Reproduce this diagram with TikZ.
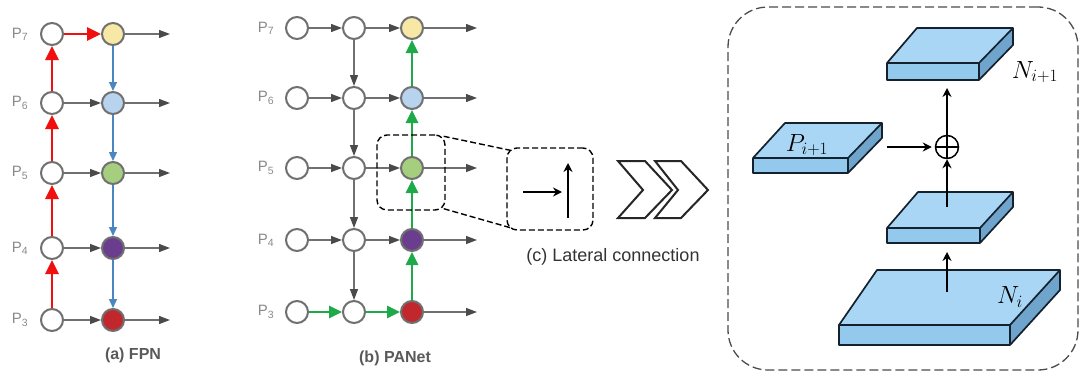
\documentclass[tikz,border=0pt]{standalone}
\usepackage{fontspec}
\setmainfont{Liberation Sans}
\usetikzlibrary{arrows.meta,calc}
\definecolor{cgray}{HTML}{707070}
\definecolor{ctip}{HTML}{4A4A4A}
\definecolor{cred}{HTML}{F01010}
\definecolor{cblue}{HTML}{4A86C0}
\definecolor{cgreen}{HTML}{1FAA4A}
\definecolor{nyellow}{HTML}{F7E8A6}
\definecolor{nblue}{HTML}{B7D3EE}
\definecolor{ngreen}{HTML}{A5CF7E}
\definecolor{npurple}{HTML}{6A3D8F}
\definecolor{nred}{HTML}{C0282D}
\definecolor{stop}{HTML}{A9D6F5}
\definecolor{sfront}{HTML}{92C9EC}
\definecolor{sside}{HTML}{6FA5CC}
\definecolor{sedge}{HTML}{15222E}
\definecolor{lblgray}{HTML}{8A8A8A}
\definecolor{capgray}{HTML}{5A5A5A}
\newcommand\myslab[7]{%
  \pgfmathsetmacro\hh{#4-#3}
  \fill[stop] (#1,#3) -- (#2,#3) -- (#6,#7) -- (#5,#7) -- cycle;
  \fill[sside] (#2,#3) -- (#6,#7) -- ({#6},{#7+\hh}) -- (#2,#4) -- cycle;
  \fill[sfront] (#1,#3) rectangle (#2,#4);
  \draw[sedge,line width=1.7pt,line join=round] (#1,#3) -- (#5,#7) -- (#6,#7) -- ({#6},{#7+\hh}) -- (#2,#4) -- (#1,#4) -- cycle;
  \draw[sedge,line width=1.7pt,line join=round] (#1,#3) -- (#2,#3) -- (#6,#7);
  \draw[sedge,line width=1.7pt] (#2,#3) -- (#2,#4);
}
\tikzset{
  nd/.style={circle,draw=cgray,line width=2pt,minimum size=22pt,inner sep=0pt,fill=white},
  lbl/.style={text=lblgray,font=\fontsize{15}{15}\selectfont,inner sep=0pt},
  capt/.style={text=capgray,font=\bfseries\fontsize{16}{16}\selectfont,inner sep=0pt},
  garr/.style={draw=cgray,line width=1.3pt,-{Triangle[length=11pt,width=8pt,color=ctip]}},
  rarr/.style={draw=cred,line width=2.6pt,-{Triangle[length=14pt,width=13pt]}},
  barr/.style={draw=cblue,line width=1.2pt,-{Triangle[length=9pt,width=8pt]}},
  grarr/.style={draw=cgreen,line width=2.6pt,-{Triangle[length=13pt,width=12pt]}},
  karr/.style={draw=black,line width=1.6pt,-{Stealth[length=9pt,width=9pt]}},
  dbox/.style={draw=black,line width=1.4pt,dash pattern=on 6pt off 3pt,rounded corners=10pt,inner sep=0pt},
  chev/.style={draw=black!85,line width=2pt,fill=white,line join=miter},
}
\begin{document}
\begin{tikzpicture}[x=1pt,y=-1pt]
\useasboundingbox (0,0) rectangle (1080,372);
\fill[white] (0,0) rectangle (1080,372);

% ---------- (a) FPN ----------
\foreach \n/\y in {7/34,6/103,5/173,4/248,3/320}{
  \node[nd] (a1\n) at (52,\y) {};
  \node[lbl] (al\n) at (20,\y) {P\textsubscript{\n}};
  \coordinate (ao\n) at (170,\y);
}
\node[nd,fill=nyellow] (a27) at (113,34) {};
\node[nd,fill=nblue] (a26) at (113,103) {};
\node[nd,fill=ngreen] (a25) at (113,173) {};
\node[nd,fill=npurple] (a24) at (113,248) {};
\node[nd,fill=nred] (a23) at (113,320) {};
\foreach \n in {7,6,5,4,3}{ \draw[garr] (a2\n) -- (ao\n); }
\foreach \n in {6,5,4,3}{ \draw[garr] (a1\n) -- (a2\n); }
\draw[rarr] (a17) -- (a27);
\draw[rarr] (a13) -- (a14);
\draw[rarr] (a14) -- (a15);
\draw[rarr] (a15) -- (a16);
\draw[rarr] (a16) -- (a17);
\draw[barr] (a27) -- (a26);
\draw[barr] (a26) -- (a25);
\draw[barr] (a25) -- (a24);
\draw[barr] (a24) -- (a23);
\node[capt] (capa) at (133,355) {(a) FPN};

% ---------- (b) PANet ----------
\foreach \n/\y in {7/28,6/98,5/168,4/240,3/312}{
  \node[nd] (b1\n) at (297,\y) {};
  \node[nd] (b2\n) at (354,\y) {};
  \node[lbl] (bl\n) at (266,\y) {P\textsubscript{\n}};
  \coordinate (bo\n) at (477,\y);
}
\node[nd,fill=nyellow] (b37) at (412,28) {};
\node[nd,fill=nblue] (b36) at (412,98) {};
\node[nd,fill=ngreen] (b35) at (412,168) {};
\node[nd,fill=npurple] (b34) at (412,240) {};
\node[nd,fill=nred] (b33) at (412,312) {};
\foreach \n in {7,6,5,4,3}{ \draw[garr] (b3\n) -- (bo\n); }
\foreach \n in {7,6,5,4}{ \draw[garr] (b1\n) -- (b2\n); \draw[garr] (b2\n) -- (b3\n); }
\draw[garr] (b27) -- (b26);
\draw[garr] (b26) -- (b25);
\draw[garr] (b25) -- (b24);
\draw[garr] (b24) -- (b23);
\draw[grarr] (b13) -- (b23);
\draw[grarr] (b23) -- (b33);
\draw[grarr] (b33) -- (b34);
\draw[grarr] (b34) -- (b35);
\draw[grarr] (b35) -- (b36);
\draw[grarr] (b36) -- (b37);
\node[capt] (capb) at (395,358) {(b) PANet};

% ---------- (c) lateral connection ----------
\node[dbox,minimum width=68pt,minimum height=75pt] (zbox) at (411,172.5) {};
\node[dbox,minimum width=86pt,minimum height=82pt] (lat) at (550,189) {};
\draw[black,line width=1.4pt,dash pattern=on 6pt off 3pt] ($(zbox.north east)+(-2,2)$) -- ($(lat.north west)+(4,3)$);
\draw[black,line width=1.4pt,dash pattern=on 6pt off 3pt] ($(zbox.south east)+(-2,-2)$) -- ($(lat.south west)+(4,-3)$);
\coordinate (lh1) at (523,192);
\coordinate (lh2) at (562,192);
\coordinate (lv1) at (568,218);
\coordinate (lv2) at (568,163);
\draw[karr] (lh1) -- (lh2);
\draw[karr] (lv1) -- (lv2);
\draw[chev] (618,161) -- (645,161) -- (672,190) -- (645,218) -- (618,218) -- (643,190) -- cycle;
\draw[chev] (655,161) -- (681,161) -- (708,190) -- (681,218) -- (655,218) -- (678,190) -- cycle;
\node[text=black!80,font=\fontsize{18}{18}\selectfont,inner sep=0pt] (capc) at (613,257) {(c) Lateral connection};

% ---------- right panel ----------
\node[draw=black!70,line width=1.3pt,dash pattern=on 9pt off 4pt,rounded corners=40pt,minimum width=350pt,minimum height=363pt,inner sep=0pt] (panel) at (903,188.5) {};
\myslab{887}{979}{63}{80}{917}{1013}{28}
\myslab{753}{848}{158}{173}{785}{882}{123}
\myslab{887}{980}{228}{243}{918}{1013}{192}
\myslab{839}{1010}{325}{345}{877}{1060}{270}
\node[font=\fontsize{25}{25}\selectfont,inner sep=0pt] (nip) at (1035,72) {$N_{i+1}$};
\node[font=\fontsize{23}{23}\selectfont,inner sep=0pt] (pip) at (807,145) {$P_{i+1}$};
\node[font=\fontsize{25}{25}\selectfont,inner sep=0pt] (ni) at (1010,297) {$N_i$};
\node[circle,draw=black,line width=1.5pt,minimum size=23pt,inner sep=0pt,
  path picture={\draw[black,line width=1.5pt] (path picture bounding box.north) -- (path picture bounding box.south) (path picture bounding box.west) -- (path picture bounding box.east);}] (plus) at (947,147) {};
\coordinate (pfrom) at (887,147);
\coordinate (topbot) at (947,88);
\coordinate (midtop) at (947,207);
\coordinate (midbot) at (947,252);
\coordinate (bottop) at (947,292);
\draw[karr] (pfrom) -- ([xshift=-3pt]plus.west);
\draw[karr] (plus) -- (topbot);
\draw[karr] (midtop) -- (plus);
\draw[karr] (bottop) -- (midbot);
\end{tikzpicture}
\end{document}
